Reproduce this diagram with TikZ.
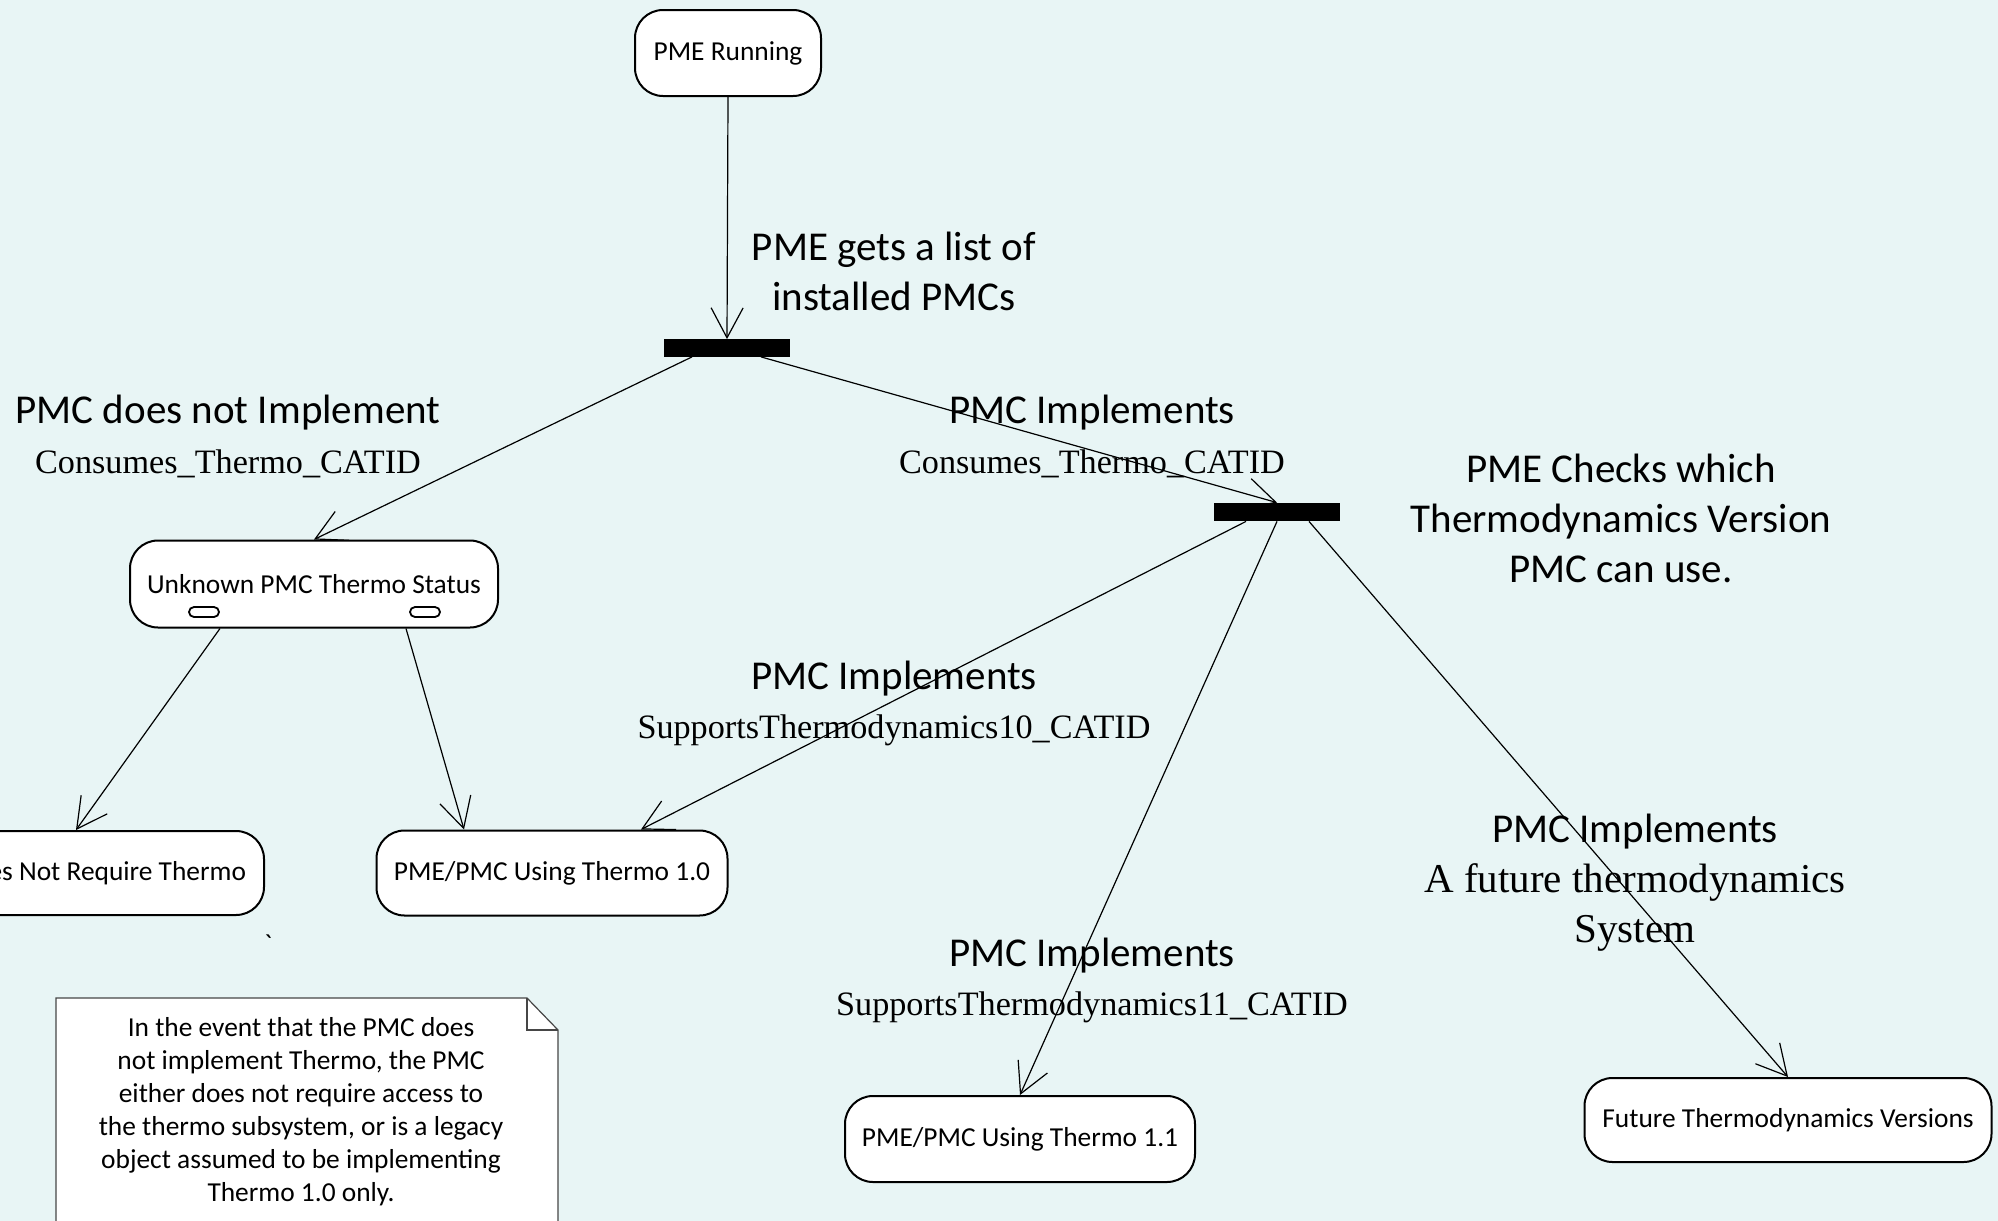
\documentclass[tikz,border=0pt]{standalone}
\usepackage{fontspec}
\setmainfont{Carlito}
\newfontfamily\tmsfont{Liberation Serif}
\newfontfamily\rawfont[Ligatures=TeXOff]{Carlito}
\usetikzlibrary{arrows.meta,calc}
\definecolor{bgc}{RGB}{232,245,245}
\definecolor{notegray}{RGB}{70,70,70}
\begin{document}
\begin{tikzpicture}[x=0.5pt,y=-0.5pt,
  state/.style={draw=black, line width=1pt, fill=white, rounded corners=14pt, inner sep=0pt,
    font=\fontsize{13.7}{16.5}\selectfont},
  bar/.style={fill=black, inner sep=0pt, minimum width=63pt, minimum height=9pt},
  arr/.style={line width=0.6pt, -{Straight Barb[length=15pt,width=16pt]}},
  big/.style={font=\fontsize{20.5}{25}\selectfont, align=center, inner sep=0pt},
  cat/.style={font=\tmsfont\fontsize{17.1}{20}\selectfont, inner sep=0pt},
  catbig/.style={font=\tmsfont\fontsize{20.5}{25}\selectfont, align=center, inner sep=0pt},
  capsule/.style={draw=black, line width=0.9pt, fill=white, rounded corners=2.5pt,
    minimum width=15pt, minimum height=5pt, inner sep=0pt}
]
\useasboundingbox (0,0) rectangle (1998,1221);
\clip (0,0) rectangle (1998,1221);
\fill[bgc] (0,0) rectangle (1998,1221);

% note
\path[draw=notegray, line width=0.6pt, fill=white]
  (56,998) -- (527,998) -- (558,1030) -- (558,1260) -- (56,1260) -- cycle;
\draw[notegray, line width=0.6pt] (527,998) -- (527,1030) -- (558,1030);
\node[font=\fontsize{13.7}{16.5}\selectfont, align=center, inner sep=0pt] (notetext) at (301,1112)
  {In the event that the PMC does\\not implement Thermo, the PMC\\either does not require access to\\the thermo subsystem, or is a legacy\\object assumed to be implementing\\Thermo 1.0 only.};

% states
\node[state, minimum width=93pt, minimum height=43pt] (pme) at (728,53) {PME Running};
\node[state, minimum width=184pt, minimum height=43.5pt] (unk) at (314,584) {Unknown PMC Thermo Status};
\node[capsule] (capA) at (204,612) {};
\node[capsule] (capB) at (425,612) {};
\node[state, anchor=east, inner xsep=9pt, minimum height=42pt] (notreq) at (265,873) {\hspace*{80pt}es Not Require Thermo};
\node[state, minimum width=175.5pt, minimum height=42.5pt] (t10) at (552,873) {PME/PMC Using Thermo 1.0};
\node[state, minimum width=175pt, minimum height=43pt] (t11) at (1020,1139) {PME/PMC Using Thermo 1.1};
\node[state, minimum width=203.5pt, minimum height=42pt] (fut) at (1788,1120) {Future Thermodynamics Versions};

% bars
\path (727,348) node[bar, minimum height=8.5pt] (bar1) {};
\path (1277,512) node[bar] (bar2) {};

% connectors
\draw[arr] (pme.south) -- (bar1.north);
\draw[arr] ([xshift=-17.5pt]bar1.south) -- (unk.north);
\draw[arr] ([xshift=17pt]bar1.south) -- (bar2.north);
\draw[arr] ([xshift=-47pt]unk.south) -- ([xshift=-94.5pt]notreq.north east);
\draw[arr] ([xshift=46pt]unk.south) -- ([xshift=-44pt]t10.north);
\draw[arr] ([xshift=-15.5pt]bar2.south) -- ([xshift=44.5pt]t10.north);
\draw[arr] (bar2.south) -- (t11.north);
\draw[arr] ([xshift=16pt]bar2.south) -- (fut.north);

% bars on top of arrow tips
\fill[black] (bar1.south west) rectangle (bar1.north east);
\fill[black] (bar2.south west) rectangle (bar2.north east);

% labels
\node[big] (lblA) at (894,271) {PME gets a list of\\installed PMCs};
\node[big] (lblB1) at (228,413) {PMC does not Implement};
\node[cat] (lblB2) at (228,464) {Consumes\_Thermo\_CATID};
\node[big] (lblC1) at (1092,413) {PMC Implements};
\node[cat] (lblC2) at (1092,464) {Consumes\_Thermo\_CATID};
\node[big] (lblD) at (1621,518) {PME Checks which\\Thermodynamics Version\\PMC can use.};
\node[big] (lblE1) at (894,679) {PMC Implements};
\node[cat] (lblE2) at (894,730) {SupportsThermodynamics10\_CATID};
\node[big] (lblF1) at (1092,956) {PMC Implements};
\node[cat] (lblF2) at (1092,1007) {SupportsThermodynamics11\_CATID};
\node[big] (lblG1) at (1635,832) {PMC Implements};
\node[catbig] (lblG2) at (1635,907) {A future thermodynamics\\System};
\node[font=\rawfont\fontsize{13.7}{16.5}\selectfont, inner sep=0pt] (tick) at (268,944) {\textasciigrave};
\end{tikzpicture}
\end{document}
